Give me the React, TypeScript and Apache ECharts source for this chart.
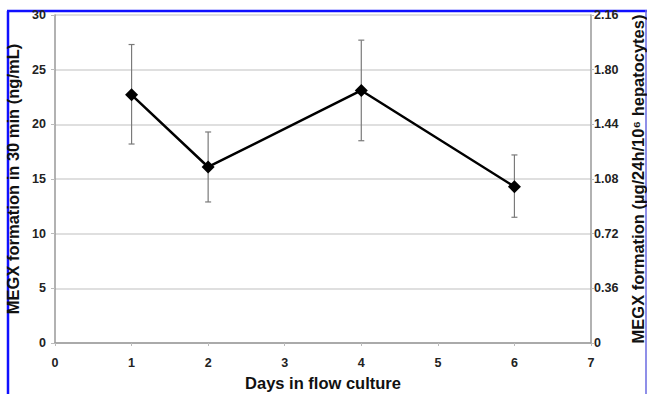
import React, { useEffect, useRef } from "react";
import * as echarts from "echarts";

const days = [1, 2, 4, 6];
const means = [22.7, 16.1, 23.1, 14.3];
const errLow = [18.2, 12.9, 18.5, 11.5];
const errHigh = [27.3, 19.3, 27.7, 17.2];
const rightTicks = ["0", "0.36", "0.72", "1.08", "1.44", "1.80", "2.16"];

const FONT = "'Liberation Sans', Arial, sans-serif";

export default function App() {
  const ref = useRef<HTMLDivElement>(null);
  useEffect(() => {
    if (!ref.current) return;
    const chart = echarts.init(ref.current, undefined, { renderer: "svg" });
    const labelStyle = { color: "#222", fontWeight: "bold" as const, fontSize: 12.5, fontFamily: FONT };
    const nameStyle = { color: "#111", fontWeight: "bold" as const, fontSize: 16.5, fontFamily: FONT };
    chart.setOption({
      animation: false,
      backgroundColor: "#fff",
      grid: { left: 55, right: 56, top: 15, bottom: 51, containLabel: false, outerBoundsMode: "none" },
      xAxis: {
        type: "value",
        min: 0,
        max: 7,
        interval: 1,
        name: "Days in flow culture",
        nameLocation: "middle",
        nameGap: 31,
        nameTextStyle: nameStyle,
        axisLine: { lineStyle: { color: "#999", width: 1.5 } },
        axisTick: { show: true, length: 3, lineStyle: { color: "#bbb" } },
        axisLabel: { ...labelStyle, margin: 13 },
        splitLine: { show: false },
      },
      yAxis: [
        {
          type: "value",
          min: 0,
          max: 30,
          interval: 5,
          name: "MEGX formation in 30 min (ng/mL)",
          nameLocation: "middle",
          nameGap: 32,
          nameRotate: 90,
          nameTextStyle: nameStyle,
          axisLine: { show: true, lineStyle: { color: "#999", width: 1.5 } },
          axisTick: { show: true, length: 4, lineStyle: { color: "#bbb" } },
          axisLabel: { ...labelStyle, margin: 9 },
          splitLine: { show: true, lineStyle: { color: "#d4d4d4", width: 1.5 } },
        },
        {
          type: "value",
          min: 0,
          max: 2.16,
          interval: 0.36,
          position: "right",
          name: "MEGX formation (µg/24h/10⁶ hepatocytes)",
          nameLocation: "middle",
          nameGap: 36,
          nameRotate: 90,
          nameTextStyle: { ...nameStyle, fontSize: 16.5 },
          axisLine: { show: true, lineStyle: { color: "#999", width: 1.5 } },
          axisTick: { show: true, length: 3, lineStyle: { color: "#bbb" } },
          axisLabel: {
            ...labelStyle,
            margin: 3,
            formatter: (v: number) => {
              const i = Math.round(v / 0.36);
              return rightTicks[i] ?? "";
            },
          },
          splitLine: { show: false },
        },
      ],
      series: [
        {
          type: "custom",
          z: 1,
          data: days.map((d, i) => [d, errLow[i], errHigh[i]]),
          renderItem: (params: any, api: any) => {
            const x = api.value(0);
            const lo = api.coord([x, api.value(1)]);
            const hi = api.coord([x, api.value(2)]);
            const cap = 3;
            const style = { stroke: "#7a7a7a", lineWidth: 1.2 };
            return {
              type: "group",
              children: [
                { type: "line", shape: { x1: lo[0], y1: lo[1], x2: hi[0], y2: hi[1] }, style },
                { type: "line", shape: { x1: lo[0] - cap, y1: lo[1], x2: lo[0] + cap, y2: lo[1] }, style },
                { type: "line", shape: { x1: hi[0] - cap, y1: hi[1], x2: hi[0] + cap, y2: hi[1] }, style },
              ],
            };
          },
        },
        {
          type: "line",
          z: 3,
          data: days.map((d, i) => [d, means[i]]),
          symbol: "diamond",
          symbolSize: 13,
          itemStyle: { color: "#000" },
          lineStyle: { color: "#000", width: 2.5 },
        },
      ],
      graphic: [
        { type: "line", shape: { x1: 8, y1: 11, x2: 8, y2: 394 }, style: { stroke: "#1010ff", lineWidth: 2.5 } },
        { type: "line", shape: { x1: 7, y1: 11, x2: 647, y2: 11 }, style: { stroke: "#1010ff", lineWidth: 2.5 } },
        { type: "line", shape: { x1: 646, y1: 10, x2: 646, y2: 394 }, style: { stroke: "#6a6ae0", lineWidth: 1.5 } },
      ],
    });
    return () => chart.dispose();
  }, []);
  return (
    <div
      ref={ref}
      style={{ position: "absolute", left: 0, top: 0, width: 647, height: 394, overflow: "hidden" }}
    />
  );
}
